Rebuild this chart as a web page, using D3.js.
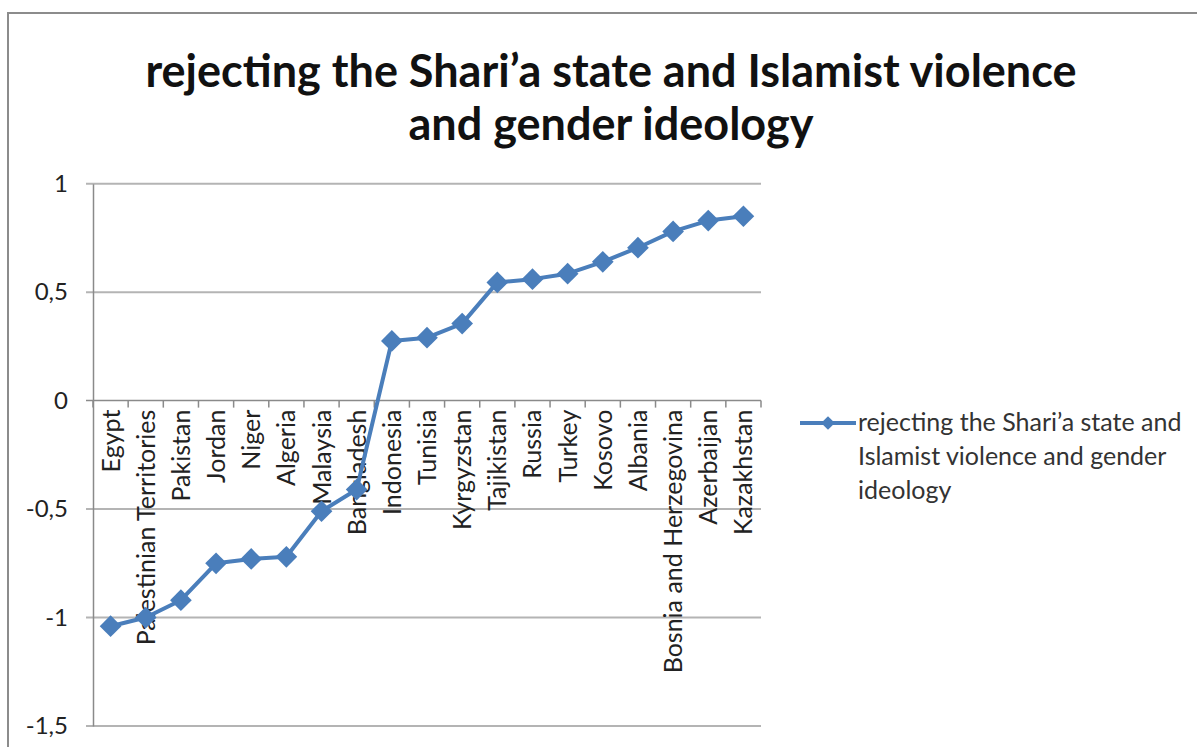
<!DOCTYPE html>
<html><head><meta charset="utf-8">
<script src="https://cdn.jsdelivr.net/npm/d3@7"></script>
<style>
html,body{margin:0;padding:0;background:#fff;}
svg{display:block;}
text{font-family:Lato,"Open Sans",sans-serif;}
</style></head>
<body>
<svg id="chart" width="1197" height="747"></svg>
<script>
const titleLines = ["rejecting the Shari\u2019a state and Islamist violence", "and gender ideology"];
const seriesName = "rejecting the Shari\u2019a state and Islamist violence and gender ideology";
const legendLines = ["rejecting the Shari\u2019a state and", "Islamist violence and gender", "ideology"];
const countries = ["Egypt","Palestinian Territories","Pakistan","Jordan","Niger","Algeria","Malaysia","Bangladesh","Indonesia","Tunisia","Kyrgyzstan","Tajikistan","Russia","Turkey","Kosovo","Albania","Bosnia and Herzegovina","Azerbaijan","Kazakhstan"];
const values = [-1.04,-1.0,-0.92,-0.75,-0.73,-0.72,-0.51,-0.41,0.275,0.29,0.355,0.545,0.56,0.585,0.64,0.705,0.78,0.83,0.85];
const yTicks = [1,0.5,0,-0.5,-1,-1.5];
const yTickLabels = ["1","0,5","0","-0,5","-1","-1,5"];

const svg = d3.select("#chart");
const color = "#4a7ebb";

// outer frame
svg.append("rect").attr("x",8).attr("y",13).attr("width",1200).attr("height",760)
  .attr("fill","none").attr("stroke","#8c8c8c").attr("stroke-width",2);

// title
const title = svg.append("text").attr("text-anchor","middle").attr("font-weight","bold")
  .attr("font-size",45).attr("fill","#111");
titleLines.forEach((t,i)=>{
  title.append("tspan").attr("x",611).attr("y",87+i*53).text(t);
});

const x0 = 93, x1 = 761;
const x = d3.scalePoint().domain(countries).range([x0,x1]).padding(0.5);
const y = d3.scaleLinear().domain([-1.5,1]).range([726,183.7]);
const step = x.step();

// gridlines
svg.append("g").selectAll("line").data(yTicks).join("line")
  .attr("x1",x0-7).attr("x2",x1).attr("y1",d=>y(d)).attr("y2",d=>y(d))
  .attr("stroke",d=>d===0?"#8a8a8a":"#b4b4b4").attr("stroke-width",d=>d===0?1.5:2);

// y axis
const yAxis = d3.axisLeft(y).tickValues(yTicks).tickSize(0).tickPadding(25)
  .tickFormat((d,i)=>yTickLabels[i]);
const gy = svg.append("g").attr("transform",`translate(${x0},0)`).call(yAxis);
gy.select(".domain").attr("stroke","#8a8a8a").attr("stroke-width",1.5);
gy.selectAll("text").attr("font-size",24).attr("fill","#222").attr("font-family","Lato,sans-serif");

// x axis ticks at category boundaries
const bounds = d3.range(countries.length+1).map(i=>x0+i*step);
svg.append("g").selectAll("line").data(bounds).join("line")
  .attr("x1",d=>d).attr("x2",d=>d).attr("y1",y(0)).attr("y2",y(0)+7)
  .attr("stroke","#8a8a8a").attr("stroke-width",1.5);

// category labels
svg.append("g").selectAll("text").data(countries).join("text")
  .attr("transform",d=>`translate(${x(d)},${y(0)+9}) rotate(-90)`)
  .attr("text-anchor","end").attr("dy","0.36em")
  .attr("font-size",25).attr("fill","#222").text(d=>d);

// line
const line = d3.line().x((d,i)=>x(countries[i])).y(d=>y(d));
svg.append("path").datum(values).attr("d",line).attr("fill","none")
  .attr("stroke",color).attr("stroke-width",4).attr("stroke-linejoin","round");

const diamond = d3.symbol().type(d3.symbolDiamond2).size(300);
svg.append("g").selectAll("path").data(values).join("path")
  .attr("transform",(d,i)=>`translate(${x(countries[i])},${y(d)})`)
  .attr("d",diamond).attr("fill",color);

// legend
const lg = svg.append("g");
lg.append("line").attr("x1",800).attr("x2",856).attr("y1",423).attr("y2",423)
  .attr("stroke",color).attr("stroke-width",4);
lg.append("path").attr("transform","translate(828,423)")
  .attr("d",d3.symbol().type(d3.symbolDiamond2).size(120)).attr("fill",color);
const lt = lg.append("text").attr("font-size",25).attr("fill","#333");
legendLines.forEach((t,i)=>{
  lt.append("tspan").attr("x",858).attr("y",431+i*34).text(t);
});
</script>
</body></html>
